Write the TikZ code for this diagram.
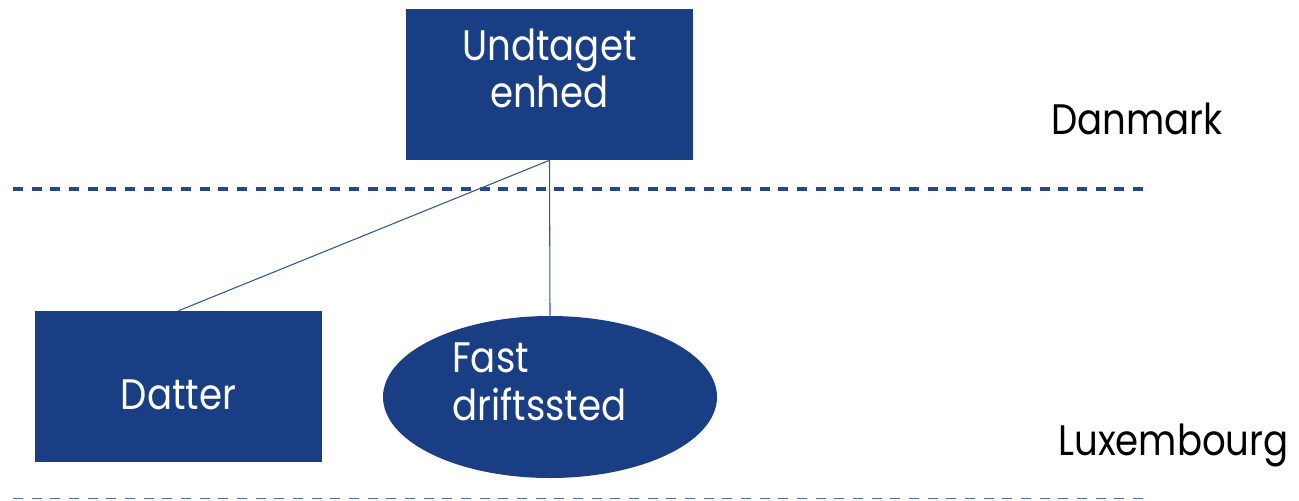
\documentclass[tikz,border=0pt]{standalone}
\usepackage{fontspec}
\setmainfont{Poppins}[FakeStretch=0.87]
\usetikzlibrary{shapes.geometric}
\definecolor{entityblue}{RGB}{26,62,132}
\definecolor{linkblue}{RGB}{52,84,150}
\definecolor{borderblue}{RGB}{40,70,140}
\tikzset{
  entity/.style={fill=entityblue, draw=none, inner sep=0pt},
  rectbox/.style={entity, rectangle, minimum width=287*0.75pt, minimum height=151*0.75pt},
  ovalbox/.style={entity, ellipse, minimum width=334*0.75pt, minimum height=162*0.75pt},
  caption/.style={text=white, inner sep=0pt, anchor=base, font=\fontsize{32}{36}\selectfont},
  link/.style={draw=linkblue, line width=0.8pt},
  border/.style={draw=borderblue, dash pattern=on 7.5pt off 6.5pt},
  country/.style={text=black, inner sep=0pt, anchor=base west, font=\fontsize{32}{36}\selectfont}
}
\begin{document}
\begin{tikzpicture}[x=0.75pt, y=-0.75pt]
  \useasboundingbox (0,0) rectangle (1299,500);

  % national borders
  \coordinate (b1w) at (13,189);
  \coordinate (b1e) at (1145,189);
  \coordinate (b2w) at (13,498.5);
  \coordinate (b2e) at (1145,498.5);
  \draw[border, line width=2.4pt] (b1w) -- (b1e);
  \draw[border, line width=1.2pt, draw=linkblue!85] (b2w) -- (b2e);

  % entities
  \node[rectbox] (parent) at (549.5,84.5) {};
  \node[caption] (parent1) at (549.5,60) {Undtaget};
  \node[caption] (parent2) at (549.5,107) {enhed};

  \node[rectbox] (sub) at (178.5,386.5) {};
  \node[caption] (sub1) at (178.5,409) {Datter};

  \node[ovalbox] (pe) at (550,397) {};
  \node[caption, anchor=base west] (pe1) at (452,372) {Fast};
  \node[caption, anchor=base west] (pe2) at (452,420) {driftssted};

  % ownership links
  \draw[link] (parent.south) -- (sub.north);
  \draw[link] (parent.south) -- (pe.north);

  % country labels
  \node[country] (dk) at (1051,134) {Danmark};
  \node[country] (lu) at (1058,455) {Luxembourg};
\end{tikzpicture}
\end{document}
